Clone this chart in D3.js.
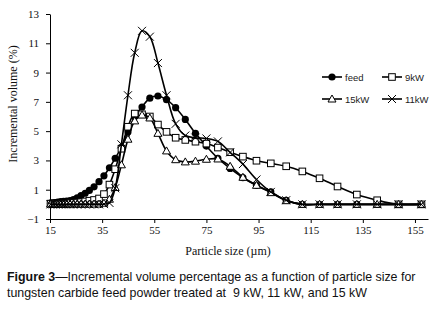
<!DOCTYPE html>
<html>
<head>
<meta charset="utf-8">
<script src="https://cdn.jsdelivr.net/npm/d3@7"></script>
<style>
  body { margin: 0; background: #fff; }
  svg { display: block; }
  .tick text { font-family: "Liberation Serif", "Times New Roman", serif; font-size: 11px; fill: #111; }
  .axis path, .axis line { stroke: #000; stroke-width: 1; }
</style>
</head>
<body>
<script>

// particle size bins (um)
var sizes = [15.2, 16.1, 17.0, 18.0, 19.1, 20.2, 21.4, 22.7, 24.0, 25.4, 26.9, 28.5, 30.1, 31.9,
             33.8, 35.7, 37.8, 40.0, 42.4, 44.9, 47.5, 50.3, 53.3, 56.4, 59.7, 63.2, 66.9, 70.8,
             75.0, 79.4, 84.1, 89.0, 94.2, 99.7, 105.6, 111.8, 118.4, 125.3, 132.7, 140.5, 148.7, 157.5];

var feed = [0.08, 0.1, 0.12, 0.15, 0.18, 0.2, 0.22, 0.26, 0.33, 0.45, 0.6, 0.76, 0.95, 1.2,
            1.55, 1.95, 2.5, 3.15, 3.9, 4.95, 6.0, 6.65, 7.25, 7.4, 7.15, 6.6, 5.8, 4.85,
            3.98, 3.15, 2.45, 1.82, 1.3, 0.85, 0.28, 0, 0, 0, 0, 0, 0, 0];

var kw9 = [0.05, 0.05, 0.05, 0.05, 0.05, 0.05, 0.05, 0.08, 0.1, 0.12, 0.15, 0.2, 0.25, 0.3,
           0.4, 0.7, 1.35, 2.4, 3.8, 5.3, 6.2, 6.15, 6.0, 5.45, 4.95, 4.55, 4.4, 4.28,
           4.15, 3.88, 3.56, 3.26, 2.98, 2.8, 2.6, 2.25, 1.78, 1.22, 0.67, 0.28, 0, 0];

var kw15 = [0.02, 0.02, 0.02, 0.02, 0.02, 0.02, 0.02, 0.02, 0.02, 0.02, 0.02, 0.02, 0.02, 0.02,
            0.02, 0.08, 0.35, 1.15, 2.7, 4.45, 5.7, 6.1, 5.9, 4.85, 3.65, 3.05, 2.9, 2.95,
            3.08, 3.1, 2.6, 1.85, 1.3, 0.8, 0.25, 0, 0, 0, 0, 0, 0, 0];

var kw11 = [0, 0, 0, 0, 0, 0, 0, 0, 0, 0, 0, 0, 0, 0,
            0, 0.02, 0.1, 1.1, 4.1, 7.45, 10.35, 11.85, 11.45, 9.65, 7.45, 5.5, 4.7, 4.55,
            4.5, 4.3, 3.55, 2.75, 1.7, 0.85, 0.28, 0, 0, 0, 0, 0, 0, 0];

var seriesNames = ["feed", "9kW", "15kW", "11kW"];
var xTicks = [15, 35, 55, 75, 95, 115, 135, 155];
var yTicks = [-1, 1, 3, 5, 7, 9, 11, 13];


var W = 442, H = 314;
var plot = { left: 50, right: 428, top: 14, bottom: 219 };

var svg = d3.select("body").append("svg")
    .attr("width", W)
    .attr("height", H);

var x = d3.scaleLinear()
    .domain([15, 160])
    .range([plot.left, plot.right]);

var y = d3.scaleLinear()
    .domain([-1, 13])
    .range([plot.bottom, plot.top]);

// axes
svg.append("g")
    .attr("class", "axis")
    .attr("transform", "translate(0," + plot.bottom + ")")
    .call(d3.axisBottom(x).tickValues(xTicks).tickSize(4).tickSizeOuter(0).tickPadding(3));

svg.append("g")
    .attr("class", "axis")
    .attr("transform", "translate(" + plot.left + ",0)")
    .call(d3.axisLeft(y).tickValues(yTicks).tickSize(4).tickSizeOuter(0).tickPadding(7));

svg.append("text")
    .attr("transform", "translate(17,104) rotate(-90)")
    .attr("text-anchor", "middle")
    .style("font-family", "Liberation Serif, serif")
    .style("font-size", "12px")
    .style("fill", "#111")
    .text("Incremental volume (%)");

svg.append("text")
    .attr("x", 228)
    .attr("y", 255)
    .attr("text-anchor", "middle")
    .style("font-family", "Liberation Serif, serif")
    .style("font-size", "12px")
    .style("fill", "#111")
    .text("Particle size (\u00b5m)");


// marker drawers, one per series
function marker(g, kind, cx, cy) {
    if (kind === "feed") {
        g.append("circle")
            .attr("cx", cx).attr("cy", cy).attr("r", 3.6)
            .attr("fill", "#000");
    } else if (kind === "9kW") {
        g.append("rect")
            .attr("x", cx - 3.3).attr("y", cy - 3.3)
            .attr("width", 6.6).attr("height", 6.6)
            .attr("fill", "#fff").attr("stroke", "#000").attr("stroke-width", 1);
    } else if (kind === "15kW") {
        g.append("path")
            .attr("d", "M" + cx + "," + (cy - 4) + "L" + (cx + 4) + "," + (cy + 3) + "L" + (cx - 4) + "," + (cy + 3) + "Z")
            .attr("fill", "#fff").attr("stroke", "#000").attr("stroke-width", 1);
    } else {
        g.append("path")
            .attr("d", "M" + (cx - 4) + "," + (cy - 4) + "L" + (cx + 4) + "," + (cy + 4)
                + "M" + (cx + 4) + "," + (cy - 4) + "L" + (cx - 4) + "," + (cy + 4))
            .attr("fill", "none").attr("stroke", "#000").attr("stroke-width", 1);
    }
}

var line = d3.line()
    .x(d => x(d[0]))
    .y(d => y(d[1]))
    .curve(d3.curveCatmullRom.alpha(0.5));

var allSeries = [feed, kw9, kw15, kw11];

allSeries.forEach(function(vals, i) {
    var pts = sizes.map((s, j) => [s, vals[j]]);
    var g = svg.append("g").attr("class", "series");
    g.append("path")
        .attr("d", line(pts))
        .attr("fill", "none")
        .attr("stroke", "#000")
        .attr("stroke-width", 1.6);
    pts.forEach(p => marker(g, seriesNames[i], x(p[0]), y(p[1])));
});


// legend, two rows of two
var legendPos = [[322, 77], [382, 77], [322, 99], [382, 99]];
var legend = svg.append("g").attr("class", "legend");
seriesNames.forEach(function(name, i) {
    var lx = legendPos[i][0], ly = legendPos[i][1];
    legend.append("line")
        .attr("x1", lx).attr("x2", lx + 20)
        .attr("y1", ly).attr("y2", ly)
        .attr("stroke", "#000").attr("stroke-width", 1.6);
    marker(legend, name, lx + 10, ly);
    legend.append("text")
        .attr("x", lx + 23)
        .attr("y", ly + 3.5)
        .style("font-family", "Liberation Sans, Arial, sans-serif")
        .style("font-size", "9.5px")
        .style("fill", "#222")
        .text(name);
});


// figure caption
var cap = svg.append("g")
    .style("font-family", "Liberation Sans, Arial, sans-serif")
    .style("font-size", "12.4px")
    .style("fill", "#111");

var c1 = cap.append("text").attr("x", 7).attr("y", 281);
c1.append("tspan").style("font-weight", "bold").text("Figure 3");
c1.append("tspan").text("\u2014Incremental volume percentage as a function of particle size for");

cap.append("text").attr("x", 7).attr("y", 297)
    .text("tungsten carbide feed powder treated at\u00a0 9 kW, 11 kW, and 15 kW");

</script>
</body>
</html>
